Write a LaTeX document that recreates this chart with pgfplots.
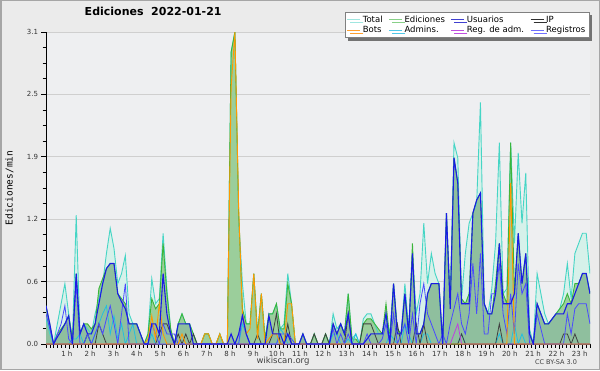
\documentclass[border=0pt]{standalone}
\usepackage{pgfplots}
\usepackage{pgfplotstable}
\pgfplotsset{compat=1.18}
\usetikzlibrary{shadows}
\usepackage{fontspec}
\setmainfont{DejaVu Sans}
\newfontfamily\monofont{DejaVu Sans Mono}

\definecolor{bgout}{HTML}{EBEBEB}
\definecolor{bgplot}{HTML}{EEEFF1}
\definecolor{border}{HTML}{A6A6A6}
\definecolor{cTot}{HTML}{45D5C5}
\definecolor{cTotFill}{HTML}{D6F1EA}
\definecolor{cEd}{HTML}{3AB53A}
\definecolor{cEdFill}{HTML}{9BCE9B}
\definecolor{cUs}{HTML}{1A1AE6}
\definecolor{cUsFill}{HTML}{5070B0}
\definecolor{cReg}{HTML}{4A4AFF}
\definecolor{cIP}{HTML}{404040}
\definecolor{cBot}{HTML}{FF9900}
\definecolor{cAdm}{HTML}{22BFE0}
\definecolor{cRA}{HTML}{C040E0}
\definecolor{lTot}{HTML}{A0E6E0}
\definecolor{lEd}{HTML}{88D088}
\definecolor{lUs}{HTML}{4040D0}
\definecolor{lIP}{HTML}{303030}
\definecolor{lBot}{HTML}{FFA030}
\definecolor{lAdm}{HTML}{50C8E8}
\definecolor{lRA}{HTML}{C050E0}
\definecolor{lReg}{HTML}{7070FF}
\definecolor{gridc}{HTML}{CFCFCF}
\definecolor{tickc}{HTML}{333333}

% i = 10-minute step (0 = 0h, 144 = 23h20)
\pgfplotstableread{
i T E U R P B A M
0 0.25 0.38 0.38 0.30 0 0 0 0
1 0.10 0.20 0.20 0.15 0 0 0 0
2 0 0 0 0 0 0 0 0
3 0.20 0.10 0.07 0.10 0 0 0 0
4 0.40 0.15 0.13 0.20 0 0 0 0
5 0.60 0.20 0.20 0.38 0 0 0 0
6 0.30 0.28 0.28 0.05 0 0 0 0
7 0.05 0.05 0 0 0 0 0.05 0
8 1.28 0.70 0.70 0.60 0 0 0.05 0
9 0.10 0.10 0.10 0 0 0 0.10 0
10 0.20 0.20 0.20 0 0 0 0 0
11 0.15 0.20 0.10 0.10 0.10 0 0.10 0
12 0.10 0.15 0.10 0 0 0 0 0
13 0.30 0.20 0.20 0.10 0 0 0.10 0
14 0.45 0.55 0.40 0.20 0.20 0 0.20 0
15 0.60 0.65 0.60 0.10 0.10 0 0.30 0
16 0.90 0.75 0.75 0.25 0 0 0.38 0
17 1.15 0.80 0.80 0.38 0 0 0.10 0
18 0.95 0.80 0.80 0.20 0 0 0.28 0
19 0.60 0.50 0.50 0 0 0 0.05 0
20 0.70 0.45 0.42 0.30 0 0 0.20 0
21 0.88 0.40 0.35 0.60 0 0 0 0
22 0.30 0.20 0.20 0 0 0 0.10 0
23 0.20 0.20 0.20 0 0 0 0.20 0
24 0.20 0.20 0.20 0 0 0 0 0
25 0.10 0.10 0.10 0 0 0 0 0
26 0 0 0 0 0 0 0 0
27 0.10 0.10 0 0 0 0.05 0 0
28 0.65 0.45 0.20 0.20 0 0.28 0.10 0
29 0.40 0.35 0.20 0.10 0 0.05 0 0
30 0.45 0.40 0.10 0 0.10 0.40 0 0
31 1.10 1.00 0.70 0.20 0.20 0.10 0 0
32 0.55 0.50 0.30 0.10 0.20 0 0 0
33 0.15 0.15 0.10 0.10 0.10 0 0 0
34 0 0 0 0.10 0 0 0 0
35 0.20 0.20 0.20 0 0.10 0 0 0
36 0.30 0.30 0.20 0 0 0.10 0 0
37 0.20 0.20 0.20 0 0.10 0 0 0
38 0.20 0.20 0.20 0 0 0 0 0
39 0.10 0.10 0 0 0.10 0 0 0
40 0 0 0 0 0 0 0 0
41 0 0 0 0 0 0 0 0
42 0.10 0.10 0 0 0 0.10 0 0
43 0.10 0.10 0 0 0 0.10 0 0
44 0 0 0 0 0 0 0 0
45 0 0 0 0 0 0 0 0
46 0.10 0.10 0 0 0 0.10 0 0
47 0 0 0 0 0 0 0 0
48 0 0 0 0 0 0 0 0
49 2.90 2.90 0.10 0 0 2.55 0 0
50 3.10 3.10 0 0 0 3.10 0 0
51 1.25 1.30 0.10 0 0 1.35 0 0
52 0.60 0.35 0.28 0.30 0 0.30 0.20 0
53 0.20 0.20 0.10 0.10 0 0.10 0.10 0
54 0.20 0.20 0 0 0 0.15 0 0
55 0.70 0.70 0 0 0 0.70 0 0
56 0.10 0.10 0 0 0.10 0.05 0 0
57 0.50 0.50 0 0 0 0.50 0 0
58 0.05 0.05 0 0 0 0 0 0
59 0.30 0.30 0.28 0 0 0.05 0 0
60 0.30 0.30 0.10 0 0.10 0.10 0 0
61 0.40 0.40 0.10 0 0.30 0.10 0 0
62 0.15 0.15 0.10 0.10 0 0 0.15 0
63 0.20 0.15 0 0.10 0 0 0.10 0
64 0.70 0.60 0.10 0.10 0.20 0.40 0 0
65 0.40 0.40 0 0.05 0 0.40 0 0
66 0 0 0 0 0 0 0 0
67 0 0 0 0 0 0 0 0
68 0.10 0.10 0.10 0 0 0 0 0
69 0 0 0 0 0 0 0 0
70 0 0 0 0 0 0 0 0
71 0.10 0.10 0 0 0.10 0 0 0
72 0 0 0 0 0 0 0 0
73 0 0 0 0 0 0 0 0
74 0.10 0.10 0 0 0.10 0 0 0
75 0 0 0 0 0 0 0 0
76 0.30 0.20 0.20 0.15 0 0 0.10 0
77 0.15 0.10 0.10 0 0 0 0.10 0
78 0.20 0.20 0.20 0.10 0 0 0 0
79 0.10 0.10 0.10 0 0 0 0 0
80 0.50 0.50 0.30 0.10 0.30 0 0.05 0
81 0.05 0.05 0 0 0 0 0 0
82 0.10 0.05 0 0 0 0 0.10 0
83 0 0 0 0 0 0 0 0
84 0.25 0.20 0 0 0.20 0 0 0
85 0.30 0.25 0.05 0.10 0.20 0 0 0
86 0.30 0.25 0.10 0 0.20 0 0 0
87 0.20 0.20 0.10 0 0.10 0 0 0
88 0.10 0.15 0.10 0 0 0 0 0
89 0.10 0.10 0.10 0.05 0 0 0 0
90 0.30 0.40 0.30 0.20 0 0 0 0
91 0.10 0.05 0 0 0 0 0.10 0
92 0.60 0.60 0.60 0.30 0 0 0.05 0
93 0.15 0.15 0.10 0 0.20 0 0 0
94 0.10 0.10 0.10 0.10 0 0 0 0
95 0.60 0.50 0.50 0.20 0 0 0.20 0
96 0.15 0.10 0.10 0 0 0 0.10 0
97 0.90 1.00 0.90 0.30 0 0 0 0
98 0.30 0.10 0.10 0 0.20 0 0 0
99 0.50 0.10 0.10 0.40 0 0 0 0
100 1.20 0.20 0.20 0.60 0.20 0 0.10 0
101 0.60 0.50 0.50 0.30 0 0 0.10 0
102 0.90 0.60 0.60 0.20 0 0 0 0
103 0.70 0.60 0.60 0.10 0 0 0 0
104 0.60 0.60 0.60 0 0 0 0 0
105 0 0 0 0.10 0 0 0 0
106 1.30 1.30 1.30 0 0 0 0 0
107 0.40 0.40 0.35 0.20 0 0 0 0
108 2.00 1.85 1.85 0.35 0 0 0 0.10
109 1.85 1.60 1.60 0.50 0 0 0 0.20
110 0.45 0.45 0.40 0.20 0.10 0 0.10 0
111 0.90 0.40 0.40 0.10 0 0 0 0
112 1.20 0.50 0.40 0.30 0 0 0 0
113 1.30 1.30 1.30 0.80 0 0 0 0
114 1.40 1.43 1.43 0.30 0 0 0 0
115 2.40 1.50 1.50 0.90 0 0 0 0
116 0.40 0.40 0.40 0.10 0 0 0 0
117 0.30 0.30 0.30 0.10 0 0 0 0
118 0.55 0.30 0.30 0.50 0 0 0 0
119 1.00 0.60 0.50 0.50 0 0 0 0
120 2.00 1.00 1.00 0.80 0.20 0 0.10 0
121 0.50 0.50 0.40 0.30 0 0 0 0
122 0.55 0.40 0.40 0.10 0 0 0 0
123 2.00 2.00 0.40 0.50 0 1.60 0 0
124 1.00 0.50 0.50 0.10 0 0 0.20 0
125 1.90 1.10 1.10 0.80 0 0 0 0
126 1.20 0.60 0.60 0.50 0 0 0.10 0
127 1.70 0.90 0.90 0.60 0 0 0 0
128 0.15 0.10 0.10 0 0 0 0 0
129 0 0 0 0 0 0 0 0
130 0.70 0.40 0.40 0.30 0 0 0 0
131 0.50 0.30 0.30 0.15 0 0 0 0
132 0.30 0.20 0.20 0 0 0 0 0
133 0.20 0.20 0.20 0 0 0 0 0
134 0.25 0.25 0.25 0 0 0 0 0
135 0.30 0.30 0.30 0 0 0 0 0
136 0.35 0.35 0.30 0 0 0 0 0
137 0.50 0.40 0.30 0 0.10 0 0 0
138 0.80 0.50 0.40 0.30 0.10 0 0 0
139 0.45 0.40 0.40 0.10 0 0 0 0
140 0.90 0.60 0.50 0.35 0.10 0 0 0
141 1.00 0.60 0.60 0.40 0 0 0 0
142 1.10 0.70 0.70 0.40 0 0 0 0
143 1.10 0.70 0.70 0.40 0 0 0 0
144 0.70 0.50 0.50 0.20 0 0 0 0
}\data

\begin{document}
\begin{tikzpicture}[x=1pt,y=1pt]
\fill[bgout] (0,0) rectangle (600,370);
\useasboundingbox (0,0) rectangle (600,370);
\draw[border, line width=1.5pt] (0.75,0.75) rectangle (599.25,369.25);
\begin{axis}[
  at={(46pt,26pt)}, anchor=south west,
  scale only axis, width=544pt, height=312pt,
  xmin=0, xmax=144, ymin=0, ymax=3.1,
  axis background/.style={fill=bgplot},
  axis x line*=bottom, axis y line*=left,
  axis line style={-, black, line width=0.8pt},
  xtick={6.1714,12.3429,18.5143,24.6857,30.8571,37.0286,43.2,49.3714,55.5429,61.7143,67.8857,74.0571,80.2286,86.4,92.5714,98.7429,104.9143,111.0857,117.2571,123.4286,129.6,135.7714,141.9429},
  xticklabels={1 h,2 h,3 h,4 h,5 h,6 h,7 h,8 h,9 h,10 h,11 h,12 h,13 h,14 h,15 h,16 h,17 h,18 h,19 h,20 h,21 h,22 h,23 h},
  minor xtick={0,1.0285714,...,144},
  ytick={0,0.62,1.24,1.86,2.48,3.1},
  yticklabels={0.0,0.6,1.2,1.9,2.5,3.1},
  minor y tick num=3,
  tick align=outside,
  major tick length=4.5pt, minor tick length=3.5pt,
  tick style={black, line width=0.7pt},
  ymajorgrids, grid style={gridc, line width=0.8pt},
  tick label style={font=\fontsize{7}{8}\selectfont, text=tickc},
  xticklabel style={xshift=-2.5pt, yshift=1pt},
  /pgf/number format/assume math mode=true,
  title={Ediciones\ \ 2022-01-21},
  title style={at={(axis description cs:0.197,1.048)}, anchor=center, font=\bfseries\fontsize{11}{13}\selectfont, text=black},
  ylabel={Ediciones/min},
  every axis y label/.style={at={(axis description cs:-0.067,0.5)}, rotate=90, anchor=center, font=\monofont\fontsize{9.5}{11}\selectfont},
  legend columns=4,
  legend cell align=left,
  legend image code/.code={\draw[#1, line width=0.9pt] (0pt,0pt) -- (13pt,0pt);},
  legend style={at={(axis description cs:1,1)}, anchor=north east, yshift=20pt, xshift=-1pt,
    draw=gray, fill=white, font=\fontsize{8.5}{9.5}\selectfont, inner sep=1.5pt, row sep=-1.5pt,
    drop shadow={shadow xshift=3pt, shadow yshift=-3pt, fill=black!55, opacity=1},
    /tikz/every even column/.append style={column sep=4pt}},
]
\addlegendimage{lTot}\addlegendentry{Total}
\addlegendimage{lEd}\addlegendentry{Ediciones}
\addlegendimage{lUs}\addlegendentry{Usuarios}
\addlegendimage{lIP}\addlegendentry{IP}
\addlegendimage{lBot}\addlegendentry{Bots}
\addlegendimage{lAdm}\addlegendentry{Admins.}
\addlegendimage{lRA}\addlegendentry{Reg. de adm.}
\addlegendimage{lReg}\addlegendentry{Registros}

\addplot[forget plot, draw=none, fill=cTotFill] table[x=i,y=T] {\data} \closedcycle;
\addplot[forget plot, draw=none, fill=cEdFill] table[x=i,y=E] {\data} \closedcycle;
\addplot[forget plot, draw=none, fill=cUsFill, fill opacity=0.15] table[x=i,y=U] {\data} \closedcycle;
\addplot[forget plot, cTot, line width=0.9pt] table[x=i,y=T] {\data};
\addplot[forget plot, cEd, line width=0.9pt] table[x=i,y=E] {\data};
\addplot[forget plot, cAdm, line width=0.8pt] table[x=i,y=A] {\data};
\addplot[forget plot, cIP, line width=0.8pt] table[x=i,y=P] {\data};
\addplot[forget plot, cRA, line width=0.8pt] table[x=i,y=M] {\data};
\addplot[forget plot, cReg, line width=0.8pt] table[x=i,y=R] {\data};
\addplot[forget plot, cBot, line width=0.9pt] table[x=i,y=B] {\data};
\addplot[forget plot, cUs, line width=1.1pt] table[x=i,y=U] {\data};
\end{axis}
\node[font=\fontsize{8.5}{10}\selectfont, text=black!75] at (283,9) {wikiscan.org};
\node[font=\fontsize{6.5}{8}\selectfont, text=black!75] at (556,8) {CC BY-SA 3.0};
\end{tikzpicture}
\end{document}
